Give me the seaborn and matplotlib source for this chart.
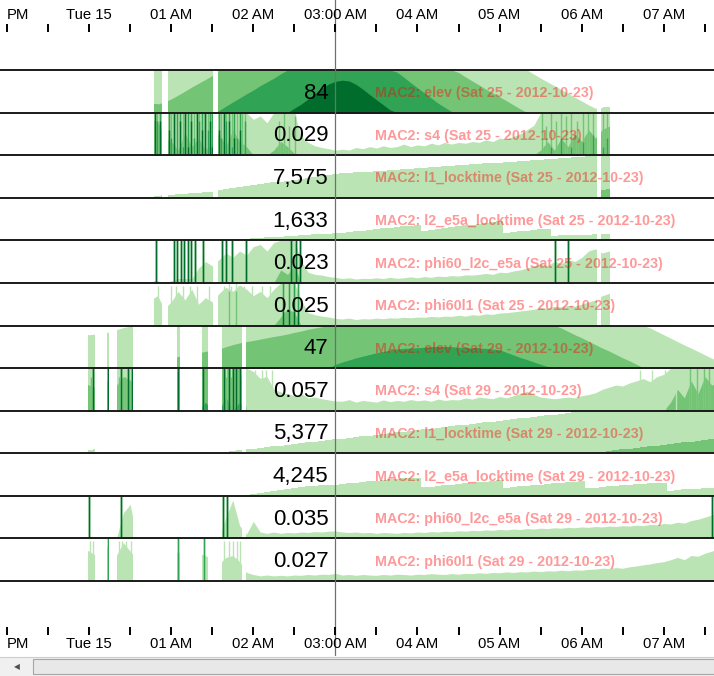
import numpy as np
import matplotlib
matplotlib.use("Agg")
import matplotlib.pyplot as plt
from matplotlib.path import Path
from matplotlib.patches import PathPatch, Rectangle
from matplotlib.lines import Line2D
import seaborn as sns

# time is in minutes after 23:00 (Mon 14), samples every 5 minutes
step = 5
hover = 240  # 03:00, the mouse position

tick_minutes = list(range(0, 540, 30))
# the "11 PM" label is cut by the left edge, only "PM" is visible
tick_labels = ["PM", "", "Tue 15", "", "01 AM", "", "02 AM", "", "03:00 AM", "",
               "04 AM", "", "05 AM", "", "06 AM", "", "07 AM", ""]

# periods where each satellite was tracked (minutes)
sat25_start = 105
sat25_tracked = [(107.4, 113.3), (117.7, 150.5), (154.2, 431.2), (434.1, 440.7)]
sat29_start = 55
sat29_tracked = [(59.2, 64.3), (73.1, 74.5), (80.4, 92.1), (124.2, 126.4),
                 (142.5, 146.9), (157.1, 171.7), (174.7, 520.0)]

# ---- Sat 25, m = 105 ... 445
elev_sat25 = [
    27.0, 27.0, 28.1, 29.7, 31.7, 33.8, 36.0, 38.0, 40.0, 42.1,
    46.1, 48.4, 50.6, 52.7, 54.9, 56.9, 59.2, 61.2, 63.2, 65.5,
    67.5, 69.8, 72.0, 74.7, 77.6, 80.3, 82.6, 84.0, 84.6, 84.2,
    82.4, 79.9, 77.0, 74.3, 71.6, 68.9, 66.4, 63.7, 60.8, 58.1,
    55.4, 52.7, 50.0, 47.7, 45.5, 43.7, 41.4, 39.2, 37.1, 34.9,
    32.9, 30.8, 28.8, 26.6, 24.5, 22.5, 20.3, 18.2, 16.2, 14.2,
    12.2, 10.1, 8.1, 6.1, 4.1, 2.3, 2.7, 2.7, 2.7]
s4_sat25 = [
    0.45, 0.45, 0.35, 0.33, 0.28, 0.38, 0.30, 0.35, 0.28, 0.33,
    0.38, 0.30, 0.40, 0.33, 0.30, 0.21, 0.23, 0.19, 0.28, 0.33,
    0.30, 0.26, 0.11, 0.075, 0.055, 0.045, 0.038, 0.029, 0.035, 0.030,
    0.045, 0.038, 0.050, 0.042, 0.055, 0.045, 0.050, 0.065, 0.050, 0.060,
    0.055, 0.070, 0.060, 0.075, 0.065, 0.075, 0.070, 0.080, 0.075, 0.090,
    0.080, 0.100, 0.095, 0.110, 0.125, 0.150, 0.175, 0.28, 0.33, 0.28,
    0.35, 0.30, 0.38, 0.33, 0.40, 0.35, 0.40, 0.42, 0.42]
s4_sat25_spike_t = [108.2, 109.6, 111.8,
                    118.4, 119.9, 122.1, 124.2, 126.4, 128.6, 130.1, 132.3, 134.5, 136.7,
                    138.9, 140.3, 142.5, 144.7, 146.9, 148.4, 149.8,
                    154.9, 156.4, 158.6, 160.0, 162.2, 164.4, 165.9, 168.1, 170.3, 171.7, 173.9,
                    198.8, 202.4, 206.1, 210.5,
                    391.0, 393.9, 397.6, 401.2, 404.9, 408.5, 412.2, 416.6, 420.9, 424.6,
                    428.3, 435.6, 438.5]
s4_sat25_spike_v = [1.0, 0.7, 0.95,
                    0.9, 0.6, 1.0, 0.75, 0.95, 0.55, 1.0, 0.8, 0.95, 0.6,
                    1.0, 0.7, 0.9, 1.0, 0.65, 0.95, 0.8,
                    0.9, 0.6, 1.0, 0.7, 0.95, 0.55, 0.85, 0.6, 0.9, 0.5, 0.7,
                    0.45, 0.5, 0.42, 0.48,
                    0.5, 0.42, 0.55, 0.45, 0.6, 0.48, 0.55, 0.45, 0.58, 0.5,
                    0.62, 0.55, 0.6]
l1_lock_sat25 = [
    540, 620, 800, 1000, 1150, 1300, 1450, 1600, 1750, 1900,
    2430, 2730, 3040, 3340, 3640, 3940, 4250, 4550, 4850, 5150,
    5460, 5760, 6060, 6370, 6670, 6970, 7270, 7575, 7720, 7870,
    8020, 8170, 8320, 8470, 8620, 8770, 8920, 9070, 9220, 9370,
    9520, 9670, 9820, 9970, 10120, 10270, 10420, 10560, 10710, 10860,
    11010, 11160, 11310, 11460, 11610, 11760, 11910, 12060, 12210, 12360,
    12510, 12660, 12810, 12960, 13110, 13250, 16100, 16300, 16300]
l2_lock_sat25 = [
    150, 150, 150, 180, 180, 200, 200, 220, 220, 250,
    280, 300, 320, 350, 380, 450, 560, 670, 780, 890,
    1000, 1100, 1210, 1310, 1420, 1520, 1580, 1633, 1800, 1960,
    2120, 2290, 2450, 2610, 2780, 2940, 3100, 3270, 3430, 3600,
    2300, 2500, 2700, 2900, 3100, 3300, 3500, 3700, 3900, 4100,
    4300, 4500, 1700, 1900, 2100, 2300, 2500, 2600, 2700, 1100,
    1150, 1200, 1250, 1300, 1350, 1400, 1450, 1500, 1500]
phi_l2c_sat25 = [
    0.009, 0.009, 0.0, 0.009, 0.018, 0.018, 0.018, 0.061, 0.088, 0.070,
    0.096, 0.123, 0.105, 0.131, 0.114, 0.149, 0.158, 0.131, 0.166, 0.228,
    0.210, 0.245, 0.088, 0.044, 0.035, 0.032, 0.026, 0.023, 0.018, 0.021,
    0.016, 0.019, 0.018, 0.021, 0.018, 0.023, 0.019, 0.021, 0.025, 0.021,
    0.026, 0.023, 0.028, 0.026, 0.030, 0.028, 0.033, 0.032, 0.035, 0.039,
    0.035, 0.044, 0.042, 0.049, 0.053, 0.061, 0.070, 0.079, 0.070, 0.088,
    0.079, 0.096, 0.088, 0.105, 0.131, 0.140, 0.123, 0.131, 0.131]
phi_l2c_sat25_spike_t = [108.9, 122.0, 124.6, 127.2, 129.7, 132.3, 134.8, 137.4, 143.6,
                         157.1, 160.0, 164.4, 174.7, 207.6, 211.2, 214.1, 400.5, 410.0]
phi_l2c_sat25_spike_v = [0.8] * 18
phi_l1_sat25 = [
    0.090, 0.105, 0.060, 0.083, 0.120, 0.090, 0.128, 0.075, 0.098, 0.083,
    0.113, 0.135, 0.120, 0.143, 0.128, 0.105, 0.120, 0.098, 0.128, 0.180,
    0.210, 0.195, 0.090, 0.045, 0.038, 0.033, 0.030, 0.025, 0.023, 0.026,
    0.021, 0.024, 0.023, 0.026, 0.024, 0.027, 0.026, 0.029, 0.027, 0.030,
    0.029, 0.032, 0.030, 0.033, 0.032, 0.036, 0.033, 0.038, 0.036, 0.041,
    0.039, 0.044, 0.045, 0.048, 0.051, 0.054, 0.057, 0.063, 0.060, 0.068,
    0.065, 0.071, 0.068, 0.075, 0.083, 0.090, 0.105, 0.113, 0.113]
phi_l1_sat25_spike_t = [110.4, 119.9, 123.5, 128.6, 133.7, 138.9, 147.6, 158.6, 163.7, 168.8,
                        173.2, 179.0, 186.4, 192.2, 162.2, 167.4, 201.7, 206.1, 209.7, 212.7]
phi_l1_sat25_spike_v = [0.14] * 14 + [0.27, 0.27, 0.5, 0.5, 0.5, 0.5]

# ---- Sat 29, m = 55 ... 520
elev_sat29 = [
    17.6, 17.6, 18.0, 18.5, 19.1, 20.3, 21.4, 22.1, 22.5, 23.6,
    24.8, 25.9, 27.0, 27.7, 28.6, 29.3, 29.9, 30.6, 31.3, 32.0,
    32.6, 33.8, 34.9, 35.8, 36.5, 37.1, 37.8, 38.5, 39.2, 39.8,
    40.5, 41.4, 42.1, 43.0, 43.7, 44.3, 45.0, 47.0, 48.2, 49.3,
    50.4, 51.3, 52.2, 53.1, 53.8, 54.5, 55.1, 55.4, 55.6, 55.8,
    56.0, 56.3, 56.3, 56.3, 56.3, 56.0, 55.8, 55.6, 55.6, 55.4,
    55.1, 54.7, 53.3, 52.0, 50.6, 49.5, 48.2, 47.0, 45.9, 45.0,
    43.7, 41.9, 40.1, 38.5, 36.7, 34.9, 33.1, 31.5, 29.7, 27.9,
    26.3, 24.5, 22.7, 21.2, 19.4, 17.6, 15.8, 14.0, 12.2, 10.6,
    8.8, 7.0, 5.2, 3.6]
s4_sat29 = [
    0.40, 0.40, 0.38, 0.38, 0.45, 0.40, 0.45, 0.43, 0.38, 0.38,
    0.38, 0.38, 0.38, 0.38, 0.50, 0.50, 0.50, 0.50, 0.55, 0.50,
    0.50, 0.58, 0.50, 0.55, 0.25, 0.23, 0.19, 0.20, 0.125, 0.11,
    0.100, 0.088, 0.100, 0.075, 0.080, 0.070, 0.063, 0.057, 0.055, 0.065,
    0.050, 0.060, 0.055, 0.050, 0.063, 0.053, 0.060, 0.055, 0.065, 0.058,
    0.063, 0.055, 0.068, 0.060, 0.065, 0.063, 0.075, 0.068, 0.080, 0.075,
    0.070, 0.083, 0.075, 0.088, 0.100, 0.113, 0.095, 0.080, 0.075, 0.070,
    0.075, 0.080, 0.075, 0.088, 0.095, 0.105, 0.125, 0.138, 0.150, 0.145,
    0.163, 0.175, 0.188, 0.170, 0.200, 0.213, 0.30, 0.375, 0.325, 0.425,
    0.35, 0.45, 0.40, 0.40]
s4_sat29_spike_t = [62.9, 73.8, 83.3, 88.4, 91.4, 125.0, 143.2, 158.6, 162.2, 165.2, 167.4, 170.3,
                    61.4, 81.9, 86.2, 160.0, 163.7,
                    177.6, 181.2, 186.4, 189.3, 193.7, 462.6, 471.4, 480.9, 488.9,
                    499.2, 504.3, 509.4, 513.0]
s4_sat29_spike_v = [1.0] * 12 + [0.45] * 5 + [0.24] * 9 + [0.5] * 4
l1_lock_sat29 = [
    1400, 1450, 1500, 1400, 500, 550, 600, 650, 700, 300,
    300, 300, 300, 300, 450, 350, 400, 500, 600, 200,
    277, 577, 877, 1177, 1477, 1777, 2077, 2377, 2677, 2977,
    3277, 3577, 3877, 4177, 4477, 4777, 5077, 5377, 5677, 5977,
    6277, 6577, 6877, 7177, 7477, 7777, 8077, 8377, 8677, 8977,
    9277, 9577, 9877, 10177, 10477, 10777, 11077, 11377, 11677, 11977,
    12277, 12577, 12877, 13177, 13477, 13777, 14077, 14377, 14677, 14977,
    15277, 15577, 15877, 16177, 16477, 16777, 17077, 17377, 17677, 17977,
    18277, 18577, 18877, 19177, 19477, 19777, 20077, 20377, 20677, 20977,
    21277, 21577, 21877, 22177]
l2_lock_sat29 = [
    0, 0, 0, 0, 0, 0, 0, 0, 0, 0,
    0, 0, 0, 0, 0, 0, 0, 0, 0, 0,
    0, 0, 0, 0, 320, 640, 960, 1360, 1760, 2160,
    2560, 2880, 3200, 3520, 3760, 4000, 4130, 4245, 4480, 4720,
    4960, 5200, 5440, 5680, 5920, 6160, 6400, 6560, 6720, 6880,
    3200, 3440, 3680, 3920, 4160, 4400, 4640, 4880, 5120, 5360,
    5600, 5840, 3040, 3280, 3520, 3760, 4000, 4240, 4480, 4720,
    4960, 5120, 5280, 5440, 2880, 3120, 3360, 3600, 3840, 4000,
    4160, 4320, 4480, 4640, 4800, 4880, 1920, 2160, 2400, 2560,
    2720, 2880, 3040, 3200]
phi_l2c_sat29 = [
    0, 0, 0, 0, 0, 0, 0.12, 0.16, 0, 0,
    0, 0, 0, 0, 0, 0, 0, 0, 0, 0,
    0, 0.10, 0.18, 0.06, 0.02, 0.08, 0.03, 0.024, 0.03, 0.024,
    0.028, 0.026, 0.030, 0.028, 0.032, 0.030, 0.034, 0.035, 0.030, 0.028,
    0.030, 0.026, 0.028, 0.024, 0.028, 0.026, 0.024, 0.028, 0.026, 0.030,
    0.028, 0.032, 0.030, 0.034, 0.032, 0.036, 0.034, 0.038, 0.036, 0.040,
    0.038, 0.042, 0.040, 0.044, 0.042, 0.046, 0.044, 0.048, 0.046, 0.050,
    0.048, 0.052, 0.050, 0.054, 0.052, 0.056, 0.054, 0.058, 0.056, 0.060,
    0.058, 0.062, 0.060, 0.066, 0.064, 0.070, 0.068, 0.076, 0.072, 0.084,
    0.090, 0.100, 0.110, 0.110]
phi_l2c_sat29_spike_t = [59.9, 83.3, 157.9, 160.8, 515.2]
phi_l2c_sat29_spike_v = [0.9] * 5
phi_l1_sat29 = [
    0.105, 0.105, 0.090, 0.075, 0.150, 0.090, 0.135, 0.105, 0.075, 0.075,
    0.075, 0.075, 0.075, 0.075, 0.105, 0.075, 0.075, 0.090, 0.090, 0.075,
    0.060, 0.083, 0.090, 0.068, 0.030, 0.023, 0.018, 0.021, 0.018, 0.020,
    0.018, 0.021, 0.020, 0.023, 0.021, 0.024, 0.023, 0.027, 0.021, 0.023,
    0.020, 0.023, 0.021, 0.020, 0.023, 0.021, 0.024, 0.023, 0.021, 0.024,
    0.023, 0.026, 0.024, 0.023, 0.026, 0.024, 0.027, 0.026, 0.029, 0.027,
    0.030, 0.029, 0.032, 0.030, 0.033, 0.032, 0.035, 0.033, 0.036, 0.035,
    0.038, 0.036, 0.039, 0.038, 0.041, 0.042, 0.045, 0.044, 0.047, 0.045,
    0.050, 0.053, 0.057, 0.060, 0.065, 0.068, 0.075, 0.083, 0.075, 0.090,
    0.087, 0.098, 0.105, 0.105]
phi_l1_sat29_spike_t = [73.8, 125.0, 144.0,
                        60.7, 62.9, 81.9, 84.0, 87.0, 90.6, 158.6, 162.2, 165.2, 168.1, 170.3]
phi_l1_sat29_spike_v = [0.45] * 3 + [0.14] * 11

for arr in [elev_sat25, s4_sat25, l1_lock_sat25, l2_lock_sat25, phi_l2c_sat25, phi_l1_sat25]:
    assert len(arr) == 69, len(arr)
for arr in [elev_sat29, s4_sat29, l1_lock_sat29, l2_lock_sat29, phi_l2c_sat29, phi_l1_sat29]:
    assert len(arr) == 94, len(arr)

# name, satellite, values, extent, spikes (t, v), step-drawn
rows = [
    ("elev", 25, elev_sat25, 90.0, None, False),
    ("s4", 25, s4_sat25, 1.0, (s4_sat25_spike_t, s4_sat25_spike_v), False),
    ("l1_locktime", 25, l1_lock_sat25, 54000.0, None, True),
    ("l2_e5a_locktime", 25, l2_lock_sat25, 40000.0, None, True),
    ("phi60_l2c_e5a", 25, phi_l2c_sat25, 0.7, (phi_l2c_sat25_spike_t, phi_l2c_sat25_spike_v), False),
    ("phi60l1", 25, phi_l1_sat25, 0.6, (phi_l1_sat25_spike_t, phi_l1_sat25_spike_v), False),
    ("elev", 29, elev_sat29, 90.0, None, False),
    ("s4", 29, s4_sat29, 1.0, (s4_sat29_spike_t, s4_sat29_spike_v), False),
    ("l1_locktime", 29, l1_lock_sat29, 66000.0, None, True),
    ("l2_e5a_locktime", 29, l2_lock_sat29, 64000.0, None, True),
    ("phi60_l2c_e5a", 29, phi_l2c_sat29, 0.8, (phi_l2c_sat29_spike_t, phi_l2c_sat29_spike_v), False),
    ("phi60l1", 29, phi_l1_sat29, 0.6, (phi_l1_sat29_spike_t, phi_l1_sat29_spike_v), False),
]
sat_info = {25: (sat25_start, sat25_tracked, 6, 12), 29: (sat29_start, sat29_tracked, 0, 6)}

sns.set_theme(style="white")
plt.rcParams["font.family"] = ["Liberation Sans", "DejaVu Sans"]
greens = sns.color_palette(["#bae4b3", "#74c476", "#31a354", "#006d2c"])

W, H = 714, 676
px_per_min = 82.1 / 60
xlim = (-7 / px_per_min, (W - 7) / px_per_min)

fig = plt.figure(figsize=(W / 100, H / 100), dpi=100)
ax = fig.add_axes([0, (H - 581) / H, 1, 511 / H])
ax.set_xlim(*xlim)
ax.set_ylim(0, 12)
ax.set_axis_off()


def tracked_clip(spans, y0, y1):
    verts, codes = [], []
    for a, b in spans:
        verts += [(a, y0), (b, y0), (b, y1), (a, y1), (a, y0)]
        codes += [Path.MOVETO, Path.LINETO, Path.LINETO, Path.LINETO, Path.CLOSEPOLY]
    return PathPatch(Path(verts, codes), transform=ax.transData)


def fmt(v):
    if v >= 1000:
        return f"{v:,.0f}"
    if v >= 1:
        return f"{v:.0f}"
    return f"{v:.3f}"


for i, (name, sat, values, extent, spikes, stairs) in enumerate(rows):
    start, spans, y0, y1 = sat_info[sat]
    clip = tracked_clip(spans, y0, y1)
    base = 11 - i
    vals = np.asarray(values, float)
    t = start + step * np.arange(len(vals))
    band = extent / 4
    for b, col in enumerate(greens):
        h = np.clip(vals / band - b, 0, 1)
        poly = ax.fill_between(t, base, base + h, color=col, lw=0,
                               step="mid" if stairs else None, zorder=1)
        poly.set_clip_path(clip)
    if spikes:
        st = np.asarray(spikes[0], float)
        sv = np.asarray(spikes[1], float)
        for b, col in enumerate(greens):
            h = np.clip(sv / band - b, 0, 1)
            keep = h > 0
            if keep.any():
                lc = ax.vlines(st[keep], base, base + h[keep], colors=[col], lw=1.0, zorder=2)
                lc.set_clip_path(clip)

    now = vals[(hover - start) // step]
    ax.annotate(fmt(now), xy=(hover, base + 0.5), xytext=(-7, -2), textcoords="offset pixels",
                ha="right", va="center", fontsize=16, color="black", zorder=6)
    ax.annotate(f"MAC2: {name} (Sat {sat} - 2012-10-23)", xy=(hover, base + 0.5),
                xytext=(40, -2), textcoords="offset pixels", ha="left", va="center",
                fontsize=10.3, fontweight="bold", color=(1, 0, 0, 0.4), zorder=6)

for y in range(13):
    ax.axhline(y, color="#1a1a1a", lw=1.4, zorder=5, clip_on=False)

# hover rule
ax.axvline(hover, ymin=-74 / 511, ymax=1.2, color="#707070", lw=0.9, zorder=7, clip_on=False)


def time_axis(ypix, top):
    a = fig.add_axes([0, 1 - ypix / H, 1, 0.0001])
    a.set_xlim(*xlim)
    a.set_yticks([])
    for s in a.spines.values():
        s.set_visible(False)
    a.patch.set_alpha(0)
    a.set_xticks(tick_minutes)
    a.set_xticklabels(tick_labels)
    if top:
        a.xaxis.tick_top()
    else:
        a.xaxis.tick_bottom()
    a.tick_params(axis="x", direction="out", length=6, width=1.4, pad=1,
                  labelsize=10.7, colors="black")
    first = a.get_xticklabels()[0]
    first.set_horizontalalignment("left")
    first.set_x(-2.5)


time_axis(32, True)
time_axis(627, False)

# browser scrollbar at the bottom
fig.add_artist(Rectangle((0, 0), 1, 19 / H, transform=fig.transFigure, fc="#f0f0f0", ec="none"))
fig.add_artist(Line2D([0, 1], [19 / H, 19 / H], transform=fig.transFigure, color="#cdcdcd", lw=0.8))
fig.add_artist(Rectangle((33 / W, 2 / H), 690 / W, 15 / H, transform=fig.transFigure,
                         fc="#e8e8e8", ec="#a6a6a6", lw=0.8))
fig.text(17 / W, 9.5 / H, "\u25c0", fontsize=5.5, color="#505050", ha="center", va="center",
         family="DejaVu Sans")

fig.savefig("out.png", dpi=100)
